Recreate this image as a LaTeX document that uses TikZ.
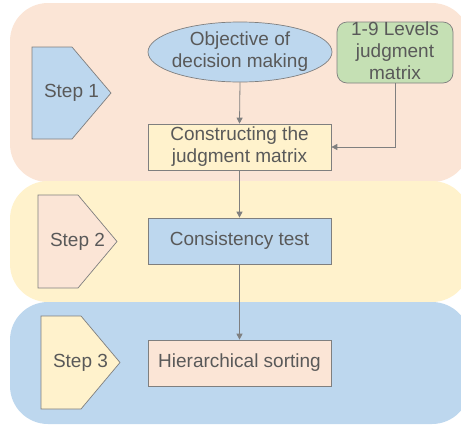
\documentclass[tikz,border=0pt]{standalone}
\usepackage{fontspec}
\setmainfont{Liberation Sans}
\usetikzlibrary{arrows.meta,shapes.geometric}
\definecolor{peach}{HTML}{FBE5D6}
\definecolor{lyellow}{HTML}{FFF2CC}
\definecolor{lblue}{HTML}{BDD7EE}
\definecolor{lgreen}{HTML}{C5E0B4}
\definecolor{edge}{HTML}{7F7F7F}
\definecolor{txt}{HTML}{595959}
\tikzset{
  band/.style={rounded corners=38pt},
  shp/.style={draw=edge, line width=0.7pt},
  lbl/.style={text=txt, font=\fontsize{19pt}{22pt}\selectfont, align=center, inner sep=0pt},
  box/.style={shp, lbl, minimum width=183pt, minimum height=46pt},
  conn/.style={draw=edge, line width=0.8pt, -{Triangle[length=6pt,width=6pt]}}
}
\begin{document}
\begin{tikzpicture}[x=1pt,y=-1pt]
\useasboundingbox (0,0) rectangle (461,424);
\begin{scope}
\clip (0,0) rectangle (461,424);
\fill[peach, band] (10,3) rectangle (470,182);
\fill[lyellow, band] (10,181) rectangle (470,302);
\fill[lblue, band] (10,302) rectangle (470,424);
\end{scope}
% step shapes
\draw[shp, fill=lblue] (32,47) -- (72,47) -- (111,93) -- (72,139) -- (32,139) -- cycle;
\node[lbl] (s1) at (71.5,93) {Step 1};
\draw[shp, fill=peach] (38,195) -- (78,195) -- (117,241.5) -- (78,288) -- (38,288) -- cycle;
\node[lbl] (s2) at (77.5,241.5) {Step 2};
\draw[shp, fill=lyellow] (41,316) -- (81,316) -- (120,362.5) -- (81,409) -- (41,409) -- cycle;
\node[lbl] (s3) at (80.5,362.5) {Step 3};
% main nodes
\node[shp, lbl, ellipse, fill=lblue, minimum width=184pt, minimum height=60pt] (obj) at (240,52) {};
\node[lbl] (objt) at (240,52) {Objective of\\decision making};
\node[shp, fill=lgreen, rounded corners=10pt, minimum width=116pt, minimum height=61pt] (lev) at (395,52.5) {};
\node[lbl] (levt) at (395,51) {1-9 Levels\\judgment\\matrix};
\node[box, fill=lyellow] (con) at (239.5,147) {Constructing the\\judgment matrix};
\node[box, fill=lblue] (cons) at (239.5,241) {Consistency test};
\node[box, fill=peach] (hier) at (239.5,363) {Hierarchical sorting};
% connectors
\draw[conn] (obj.south) -- (con.north);
\draw[conn] (lev.south) |- (con.east);
\draw[conn] (con.south) -- (cons.north);
\draw[conn] (cons.south) -- (hier.north);
\end{tikzpicture}
\end{document}
